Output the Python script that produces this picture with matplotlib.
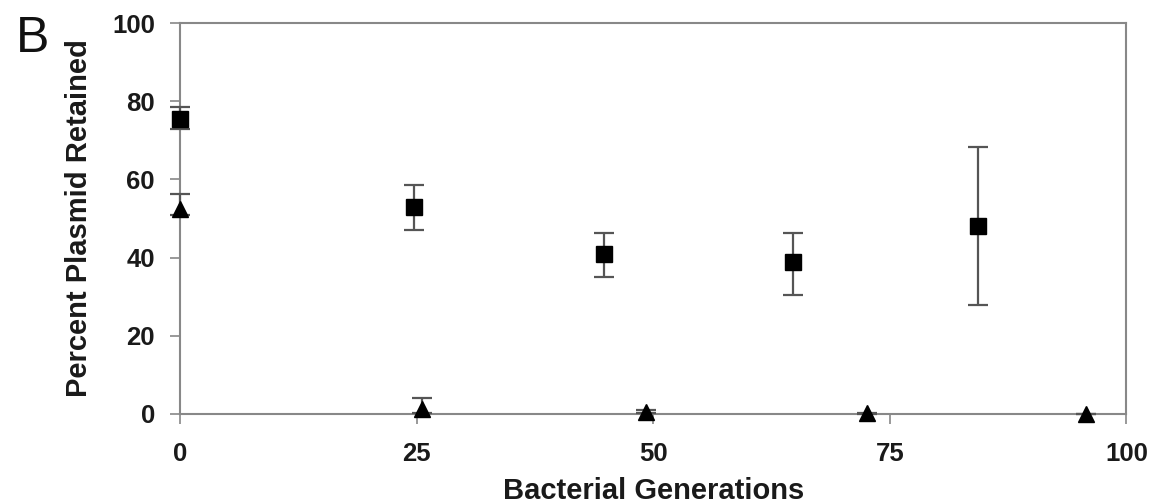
import matplotlib.pyplot as plt

plt.rcParams['font.family'] = ['Liberation Sans', 'DejaVu Sans']

# plasmid retention, series 1 (squares)
gen_sq = [0, 24.7, 44.8, 64.8, 84.3]
pct_sq = [75.5, 53.0, 40.8, 38.9, 48.1]
err_sq_lo = [2.6, 5.9, 5.8, 8.5, 20.2]
err_sq_hi = [3.0, 5.7, 5.5, 7.4, 20.2]

# series 2 (triangles)
gen_tri = [0, 25.6, 49.2, 72.6, 95.7]
pct_tri = [52.5, 1.2, 0.5, 0.1, 0.0]
err_tri_lo = [1.5, 1.0, 0.3, 0.1, 0.0]
err_tri_hi = [3.8, 2.8, 0.4, 0.1, 0.0]

xticks = [0, 25, 50, 75, 100]
yticks = [0, 20, 40, 60, 80, 100]

fig = plt.figure(figsize=(11.53, 5.04), dpi=100)
ax = fig.add_axes([0.156, 0.179, 0.821, 0.775])

ax.errorbar(gen_tri, pct_tri, yerr=[err_tri_lo, err_tri_hi], fmt='^', color='black',
            ms=11, ecolor='#555555', elinewidth=1.6, capsize=7, capthick=1.6,
            clip_on=False, zorder=3)
ax.errorbar(gen_sq, pct_sq, yerr=[err_sq_lo, err_sq_hi], fmt='s', color='black',
            ms=11, ecolor='#555555', elinewidth=1.6, capsize=7, capthick=1.6,
            clip_on=False, zorder=4)

ax.set_xlim(0, 100)
ax.set_ylim(0, 100)
ax.set_xticks(xticks)
ax.set_yticks(yticks)
ax.set_xticklabels([str(t) for t in xticks], fontsize=18.5, fontweight='bold', color='#1a1a1a')
ax.set_yticklabels([str(t) for t in yticks], fontsize=18.5, fontweight='bold', color='#1a1a1a')
ax.tick_params(axis='both', direction='out', length=7, width=1.2, color='#888888')
ax.tick_params(axis='x', pad=13)
ax.tick_params(axis='y', pad=11)

for s in ax.spines.values():
    s.set_color('#888888')
    s.set_linewidth(1.5)

ax.set_xlabel('Bacterial Generations', fontsize=21, fontweight='bold', color='#1a1a1a', labelpad=8)
ax.set_ylabel('Percent Plasmid Retained', fontsize=21, fontweight='bold', color='#1a1a1a', labelpad=14)

fig.text(0.014, 1 - 52 / 504, 'B', fontsize=36, color='#111111', va='baseline')

fig.savefig('out.png', dpi=100)
